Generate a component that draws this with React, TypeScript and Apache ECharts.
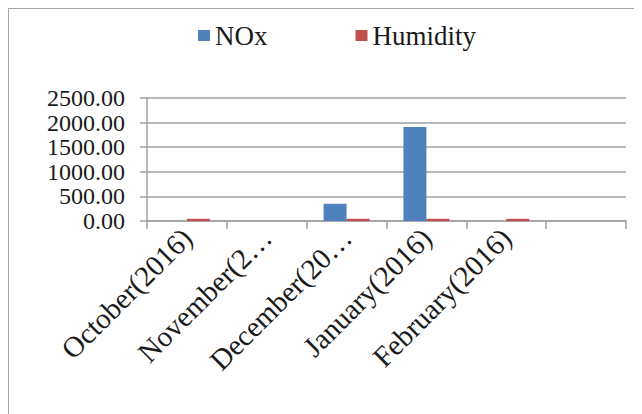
import React, { useEffect, useRef } from "react";
import * as echarts from "echarts";

const categories = ["October(2016)", "November(2016)", "December(2016)", "January(2016)", "February(2016)", ""];
const noxValues = [0, 0, 350, 1910, 0, null];
const humidityValues = [45, 0, 45, 45, 45, null];
const yTicks = [0, 500, 1000, 1500, 2000, 2500];

const FONT = "Liberation Serif";

export default function App() {
  const ref = useRef<HTMLDivElement>(null);
  useEffect(() => {
    document.body.style.margin = "8px";
    const chart = echarts.init(ref.current!, null, { renderer: "svg" });
    chart.setOption({
      animation: false,
      backgroundColor: "#ffffff",
      textStyle: { fontFamily: FONT },
      graphic: [
        {
          type: "rect",
          shape: { x: 0, y: 0, width: 800, height: 600 },
          style: { fill: "none", stroke: "#a6a6a6", lineWidth: 2 },
          silent: true,
        },
      ],
      legend: {
        left: 185,
        top: 9,
        icon: "rect",
        itemWidth: 12,
        itemHeight: 11,
        itemGap: 88,
        textStyle: { fontFamily: FONT, fontSize: 27, color: "#1a1a1a" },
        data: ["NOx", "Humidity"],
      },
      grid: { left: 139, right: 16, top: 90, bottom: 193, containLabel: false },
      xAxis: {
        type: "category",
        data: categories,
        axisLine: { lineStyle: { color: "#a0a0a0", width: 1.5 } },
        axisTick: { show: true, length: 8, interval: 0, lineStyle: { color: "#a0a0a0", width: 1.5 } },
        axisLabel: {
          interval: 0,
          rotate: 45,
          margin: 12,
          fontFamily: FONT,
          fontSize: 29,
          color: "#1a1a1a",
          width: 188,
          overflow: "truncate",
          ellipsis: "…",
        },
      },
      yAxis: {
        type: "value",
        min: yTicks[0],
        max: yTicks[yTicks.length - 1],
        interval: 500,
        axisLine: { show: true, lineStyle: { color: "#a0a0a0", width: 1.5 } },
        axisTick: { show: true, length: 7, lineStyle: { color: "#a0a0a0", width: 1.5 } },
        splitLine: { lineStyle: { color: "#a0a0a0", width: 1.5 } },
        axisLabel: {
          margin: 22,
          showMinLabel: true,
          showMaxLabel: true,
          hideOverlap: false,
          fontFamily: FONT,
          fontSize: 24,
          lineHeight: 24,
          color: "#1a1a1a",
          formatter: (v: number) => v.toFixed(2),
        },
      },
      series: [
        {
          name: "NOx",
          type: "bar",
          data: noxValues,
          barWidth: 23,
          barGap: "0%",
          itemStyle: { color: "#4f81bd" },
        },
        {
          name: "Humidity",
          type: "bar",
          data: humidityValues,
          barWidth: 23,
          barGap: "0%",
          itemStyle: { color: "#c0504d" },
        },
      ],
    });
    return () => chart.dispose();
  }, []);
  return <div ref={ref} style={{ width: 634, height: 406 }} />;
}
